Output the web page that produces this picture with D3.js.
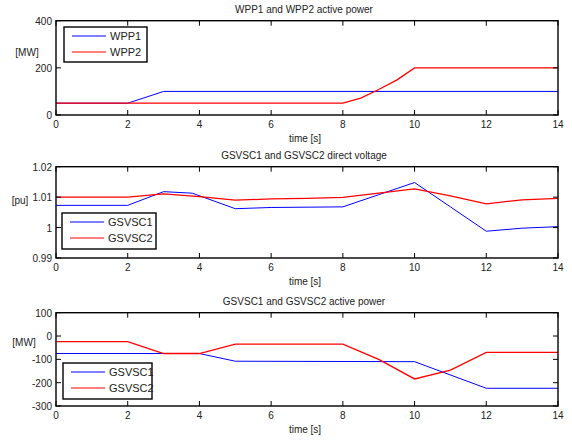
<!DOCTYPE html>
<html>
<head>
<meta charset="utf-8">
<script src="https://cdn.jsdelivr.net/npm/d3@7"></script>
<style>
  body { margin: 0; background: #fff; }
  svg text { font-family: "Liberation Sans", Arial, sans-serif; fill: #222; }
</style>
</head>
<body>
<div id="container"></div>
<script>
// data (breakpoints of each trace)
const tWpp1 = [0, 2, 3, 14]
const wpp1 = [50, 50, 100, 100]
const tWpp2 = [0, 8, 8.5, 9, 9.5, 10, 14]
const wpp2 = [50, 50, 72, 108, 148, 200, 200]

const tVdc = [0, 2, 3, 3.8, 5, 6, 8, 9, 10, 11, 12, 13, 14]
const vdc1 = [1.0073, 1.0073, 1.0118, 1.0113, 1.0062, 1.0066, 1.0068, 1.0108, 1.0148, 1.0068, 0.9988, 0.9998, 1.0003]
const tVdc2 = [0, 2, 3, 4, 5, 6, 7, 8, 9, 10, 11, 12, 13, 14]
const vdc2 = [1.01, 1.01, 1.0111, 1.0102, 1.009, 1.0094, 1.0096, 1.0099, 1.0113, 1.0127, 1.0104, 1.0078, 1.0091, 1.0096]

const tP1 = [0, 3, 4, 5, 10, 12, 14]
const p1 = [-75, -75, -75, -108, -110, -224, -224]
const tP2 = [0, 2, 3, 4, 5, 8, 9, 10, 11, 12, 14]
const p2 = [-24, -24, -75, -75, -35, -35, -100, -184, -146, -70, -70]

const xTicks = [0, 2, 4, 6, 8, 10, 12, 14]

const panels = [
  { title: "WPP1 and WPP2 active power", ylab: "[MW]", yDomain: [0, 400], yTicks: [0, 200, 400],
    top: 20.7, h: 94.3, labX: 27, labY: 52,
    series: [{ name: "WPP1", t: tWpp1, v: wpp1, color: "#0000ff" }, { name: "WPP2", t: tWpp2, v: wpp2, color: "#ff0000" }],
    legend: { x: 64, y: 27, w: 83, h: 35 } },
  { title: "GSVSC1 and GSVSC2 direct voltage", ylab: "[pu]", yDomain: [0.99, 1.02], yTicks: [0.99, 1, 1.01, 1.02],
    top: 166.7, h: 91.3, labX: 20, labY: 200,
    series: [{ name: "GSVSC1", t: tVdc, v: vdc1, color: "#0000ff" }, { name: "GSVSC2", t: tVdc2, v: vdc2, color: "#ff0000" }],
    legend: { x: 62, y: 213, w: 94, h: 36 } },
  { title: "GSVSC1 and GSVSC2 active power", ylab: "[MW]", yDomain: [-300, 100], yTicks: [-300, -200, -100, 0, 100],
    top: 312.7, h: 93.3, labX: 24, labY: 342,
    series: [{ name: "GSVSC1", t: tP1, v: p1, color: "#0000ff" }, { name: "GSVSC2", t: tP2, v: p2, color: "#ff0000" }],
    legend: { x: 63, y: 363, w: 89, h: 36 } }
]

const left = 56, right = 558
const fs = 10
const svg = d3.select("#container").append("svg")
  .attr("width", 572).attr("height", 441)

const x = d3.scaleLinear().domain([0, 14]).range([left, right])

panels.forEach(p => {
  const y = d3.scaleLinear().domain(p.yDomain).range([p.top + p.h, p.top])
  const g = svg.append("g")

  // curves
  p.series.forEach(s => {
    const pts = s.t.map((t, i) => [t, s.v[i]])
    g.append("path")
      .attr("d", d3.line().x(d => x(d[0])).y(d => y(d[1]))(pts))
      .attr("fill", "none")
      .attr("stroke", s.color)
      .attr("stroke-width", s.color === "#ff0000" ? 1.3 : 1)
  })

  // ticks (inward, all four sides)
  const tl = 5
  xTicks.forEach(t => {
    g.append("line").attr("x1", x(t)).attr("x2", x(t)).attr("y1", p.top + p.h).attr("y2", p.top + p.h - tl).attr("stroke", "#000")
    g.append("line").attr("x1", x(t)).attr("x2", x(t)).attr("y1", p.top).attr("y2", p.top + tl).attr("stroke", "#000")
    g.append("text").attr("x", x(t)).attr("y", p.top + p.h + 13)
      .attr("text-anchor", "middle").attr("font-size", fs).text(t)
  })
  p.yTicks.forEach(v => {
    g.append("line").attr("x1", left).attr("x2", left + tl).attr("y1", y(v)).attr("y2", y(v)).attr("stroke", "#000")
    g.append("line").attr("x1", right).attr("x2", right - tl).attr("y1", y(v)).attr("y2", y(v)).attr("stroke", "#000")
    g.append("text").attr("x", left - 4).attr("y", y(v) + 4)
      .attr("text-anchor", "end").attr("font-size", fs).text(v)
  })

  // frame
  g.append("rect").attr("x", left).attr("y", p.top).attr("width", right - left).attr("height", p.h)
    .attr("fill", "none").attr("stroke", "#000").attr("stroke-width", 1.4)

  g.append("text").attr("x", (left + right) / 2 - 3).attr("y", p.top - 8)
    .attr("text-anchor", "middle").attr("font-size", fs).text(p.title)
  g.append("text").attr("x", (left + right) / 2 - 2).attr("y", p.top + p.h + 27)
    .attr("text-anchor", "middle").attr("font-size", fs).text("time [s]")
  g.append("text").attr("x", p.labX).attr("y", p.labY + 4)
    .attr("text-anchor", "middle").attr("font-size", fs).text(p.ylab)

  // legend
  const L = p.legend
  g.append("rect").attr("x", L.x).attr("y", L.y).attr("width", L.w).attr("height", L.h)
    .attr("fill", "#fff").attr("stroke", "#000").attr("stroke-width", 1.4)
  p.series.forEach((s, i) => {
    const ly = L.y + 9 + i * 16
    g.append("line").attr("x1", L.x + 8).attr("x2", L.x + 42).attr("y1", ly).attr("y2", ly)
      .attr("stroke", s.color).attr("stroke-width", 1)
    g.append("text").attr("x", L.x + 46).attr("y", ly + 4).attr("font-size", fs + 1).text(s.name)
  })
})
</script>
</body>
</html>
